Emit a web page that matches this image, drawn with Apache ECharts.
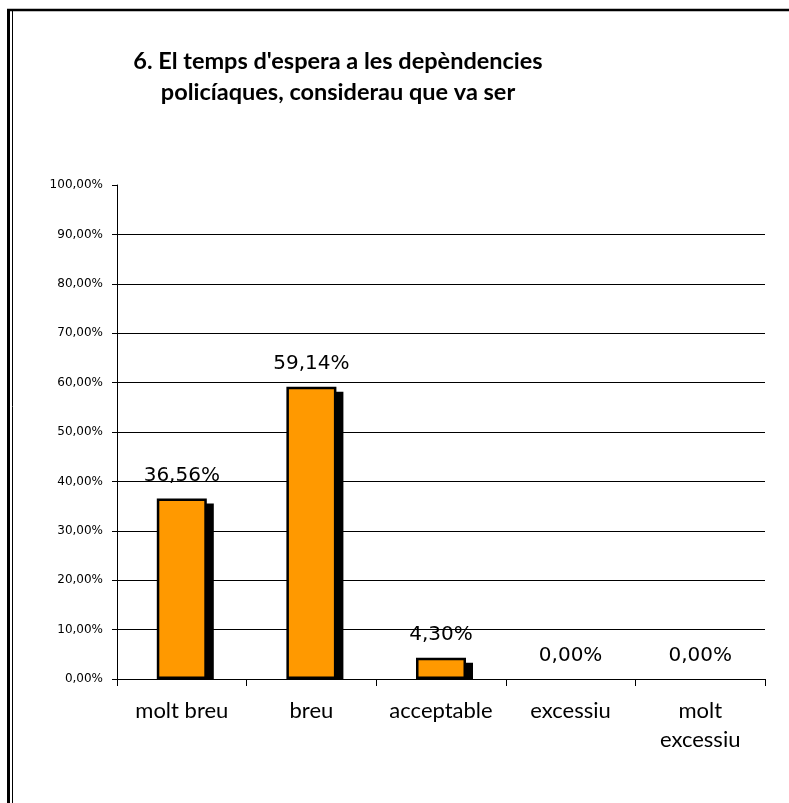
<!DOCTYPE html>
<html>
<head>
<meta charset="utf-8">
<style>
  html, body { margin: 0; padding: 0; background: #fff; }
  #chart { width: 789px; height: 803px; }
</style>
<script src="https://cdn.jsdelivr.net/npm/echarts@6/dist/echarts.min.js"></script>
</head>
<body>
<div id="chart"></div>
<script>
// Survey answers and their shares (percent)
const categories = ['molt breu', 'breu', 'acceptable', 'excessiu', 'molt\nexcessiu'];
const shares = [36.56, 59.14, 4.30, 0.00, 0.00];

const titleText = "6. El temps d'espera a les depèndencies\npolicíaques, considerau que va ser";
const pct = v => Number(v).toFixed(2).replace('.', ',') + '%';

const chart = echarts.init(document.getElementById('chart'), null, { renderer: 'canvas' });

const BAR_W = 50;

chart.setOption({
  animation: false,
  backgroundColor: '#fff',
  title: {
    text: titleText,
    left: 333,
    top: 41,
    textAlign: 'center',
    textStyle: {
      fontFamily: 'Lato',
      fontWeight: 'bold',
      fontSize: 23.5,
      lineHeight: 31,
      color: '#000'
    }
  },
  graphic: [
    // frame around the chart area
    { type: 'line', shape: { x1: 7, y1: 10, x2: 789, y2: 10 }, style: { stroke: '#000', lineWidth: 2.5 } },
    { type: 'line', shape: { x1: 8.5, y1: 9, x2: 8.5, y2: 803 }, style: { stroke: '#000', lineWidth: 3 } },
    { type: 'line', shape: { x1: 12.5, y1: 10, x2: 12.5, y2: 803 }, style: { stroke: '#000', lineWidth: 1 } }
  ],
  grid: { left: 117, right: 24, top: 185, bottom: 124, containLabel: false },
  xAxis: {
    type: 'category',
    data: categories,
    boundaryGap: true,
    axisLine: { lineStyle: { color: '#000', width: 1 } },
    axisTick: { show: true, length: 7, alignWithLabel: false, lineStyle: { color: '#000' } },
    axisLabel: {
      margin: 17,
      fontFamily: 'Lato',
      fontSize: 22,
      lineHeight: 29,
      color: '#000',
      interval: 0
    }
  },
  yAxis: {
    type: 'value',
    min: 0,
    max: 100,
    interval: 10,
    axisLine: { show: true, lineStyle: { color: '#000', width: 1 } },
    axisTick: { show: true, length: 5, lineStyle: { color: '#000' } },
    splitLine: { show: true, showMaxLine: false, lineStyle: { color: '#000', width: 1 } },
    axisLabel: {
      margin: 14,
      fontFamily: 'DejaVu Sans',
      fontSize: 12,
      color: '#000',
      formatter: v => pct(v)
    }
  },
  series: [
    {
      // drop shadow behind each bar, kept inside the plot area
      type: 'custom',
      z: 1,
      silent: true,
      data: shares.map((v, i) => [i, v]),
      renderItem: (params, api) => {
        const i = api.value(0);
        const v = api.value(1);
        if (v <= 0) return null;
        const top = api.coord([i, v]);
        const base = api.coord([i, 0]);
        const x = top[0] - BAR_W / 2 + 6;
        const y = top[1] + 5;
        const h = base[1] - y;
        if (h <= 0) return null;
        return { type: 'rect', shape: { x: x, y: y, width: BAR_W + 1, height: h }, style: { fill: '#000' } };
      },
      encode: { x: 0, y: 1 }
    },
    {
      type: 'bar',
      z: 2,
      // zero-height bars get no outline
      data: shares.map(v => v > 0 ? v : { value: v, itemStyle: { borderWidth: 0, color: 'rgba(0,0,0,0)' } }),
      barWidth: BAR_W,
      itemStyle: { color: '#FF9900', borderColor: '#000', borderWidth: 2.5 },
      label: {
        show: true,
        position: 'top',
        distance: 13,
        fontFamily: 'DejaVu Sans',
        fontSize: 20,
        color: '#000',
        formatter: p => pct(p.value)
      }
    }
  ]
});
</script>
</body>
</html>
